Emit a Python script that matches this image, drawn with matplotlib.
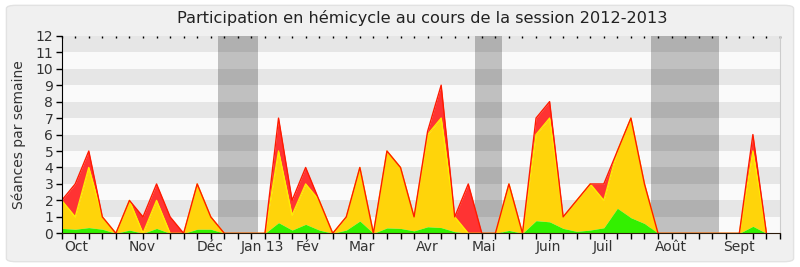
import numpy as np
import matplotlib.pyplot as plt
from matplotlib.patches import FancyBboxPatch

# weekly values, week 0 = end of September 2012
green = [0.3, 0.25, 0.35, 0.25, 0, 0.2, 0, 0.3, 0, 0,
         0.25, 0.25, 0, 0, 0, 0, 0.65, 0.2, 0.55, 0.2,
         0, 0.2, 0.75, 0, 0.33, 0.3, 0.15, 0.4, 0.35, 0.1,
         0, 0, 0, 0.18, 0, 0.77, 0.7, 0.3, 0.12, 0.2,
         0.34, 1.52, 0.95, 0.6, 0, 0, 0, 0, 0, 0,
         0, 0.43, 0]
yellow = [1.7, 0.75, 3.65, 0.75, 0, 1.8, 0, 1.7, 0, 0,
          2.75, 0.75, 0, 0, 0, 0, 4.35, 0.9, 2.45, 1.8,
          0, 0.8, 3.25, 0, 4.67, 3.7, 0.85, 5.6, 6.65, 0.9,
          0, 0, 0, 2.82, 0, 5.23, 6.3, 0.7, 1.88, 2.8,
          1.66, 3.48, 6.05, 2.4, 0, 0, 0, 0, 0, 0,
          0, 4.57, 0]
red = [0, 2, 1, 0, 0, 0, 1, 1, 1, 0,
       0, 0, 0, 0, 0, 0, 2, 0.9, 1, 0,
       0, 0, 0, 0, 0, 0, 0, 0.2, 2, 0,
       3, 0, 0, 0, 0, 1, 1, 0, 0, 0,
       1, 0, 0, 0, 0, 0, 0, 0, 0, 0,
       0, 1, 0]

months = ['Oct', 'Nov', 'Déc', 'Jan 13', 'Fév', 'Mar', 'Avr', 'Mai', 'Juin', 'Juil', 'Août', 'Sept']
month_pos = [1.1, 5.95, 10.97, 14.83, 18.18, 22.13, 26.96, 31.17, 35.94, 39.93, 44.94, 50.0]
vacations = [(11.5, 14.5), (30.5, 32.5), (43.5, 48.5)]

weeks = np.arange(len(green))
g = np.array(green)
y = g + np.array(yellow)
r = y + np.array(red)

fig = plt.figure(figsize=(8, 2.67), dpi=100, facecolor='white')
fig.patches.append(FancyBboxPatch((0.008, 0.02), 0.984, 0.96, boxstyle='round,pad=0,rounding_size=0.012',
                                  transform=fig.transFigure, facecolor='#f0f0f0', edgecolor='#e2e2e2',
                                  lw=1, zorder=-10))
ax = fig.add_axes([0.0771, 0.126, 0.8979, 0.74])
ax.set_facecolor('#fafafa')

# horizontal stripes
for k in range(1, 12, 2):
    ax.axhspan(k, k + 1, color='#e6e6e6', lw=0, zorder=0)
for a, b in vacations:
    ax.axvspan(a, b, color='black', alpha=0.23, lw=0, zorder=1)

ax.fill_between(weeks, y, r, color='#ff3333', lw=0, zorder=2)
ax.fill_between(weeks, g, y, color='#ffd40a', lw=0, zorder=2)
ax.fill_between(weeks, 0, g, color='#33f000', lw=0, zorder=2)
ax.plot(weeks, y, color='#ffee00', lw=1, zorder=3)
ax.plot(weeks, r, color='#ff1a00', lw=1, zorder=4)

ax.set_xlim(0, 53)
ax.set_ylim(0, 12)
ax.set_yticks(range(13))
ax.set_xticks(np.arange(0, 54), minor=True)
ax.set_xticks(month_pos)
ax.set_xticklabels(months)
ax.tick_params(axis='x', which='major', length=0, pad=5, labelsize=10, labelcolor='#333333')
ax.tick_params(axis='x', which='minor', length=4, width=1, color='black')
ax.tick_params(axis='y', length=4, width=1, labelsize=10, labelcolor='#333333', pad=2)

top = ax.secondary_xaxis('top')
top.set_xticks(np.arange(0, 54))
top.tick_params(length=1.5, direction='in', labeltop=False, width=1)
top.spines['top'].set_visible(False)

ax.spines['top'].set_visible(False)
ax.spines['right'].set_color('#cccccc')
ax.spines['left'].set_color('black')
ax.spines['bottom'].set_color('#2a1a0a')
for s in ax.spines.values():
    s.set_zorder(5)

ax.set_ylabel('Séances par semaine', fontsize=10, color='#333333', labelpad=7)
fig.text(0.528, 0.932, 'Participation en hémicycle au cours de la session 2012-2013',
         ha='center', va='center', fontsize=11.6, color='#222222')

fig.savefig('out.png', dpi=100, facecolor=fig.get_facecolor())
